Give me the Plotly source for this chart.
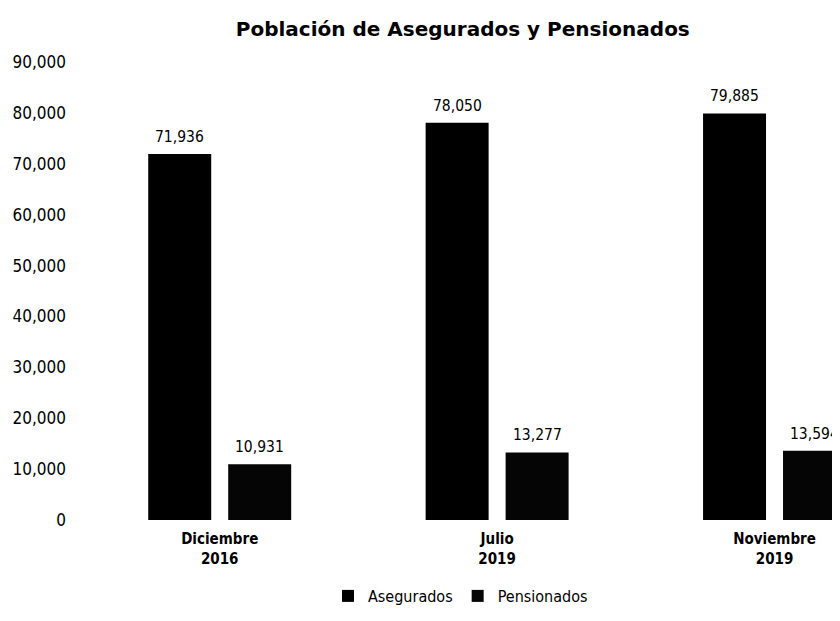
import plotly.graph_objects as go

categories = ["<b>Diciembre</b><br><b>2016</b>", "<b>Julio</b><br><b>2019</b>", "<b>Noviembre</b><br><b>2019</b>"]
asegurados = [71936, 78050, 79885]
pensionados = [10931, 13277, 13594]
y_ticks = [0, 10000, 20000, 30000, 40000, 50000, 60000, 70000, 80000, 90000]

FONT = "DejaVu Sans Condensed, DejaVu Sans, sans-serif"

fig = go.Figure()
fig.add_trace(go.Bar(
    name="Asegurados", x=categories, y=asegurados,
    marker=dict(color="#000000", line=dict(width=0)),
))
fig.add_trace(go.Bar(
    name="Pensionados", x=categories, y=pensionados,
    marker=dict(color="#050505", line=dict(width=0)),
))

# value labels above bars
for series, shift in ((asegurados, -40), (pensionados, 40)):
    for cat, v in zip(categories, series):
        fig.add_annotation(x=cat, y=v, text=f"{v:,}", showarrow=False,
                           xshift=shift, yshift=6, yanchor="bottom",
                           font=dict(size=15.5, family=FONT, color="#000000"))

fig.update_layout(
    width=832, height=605,
    margin=dict(l=73, r=0, t=54, b=92),
    paper_bgcolor="white", plot_bgcolor="white",
    font=dict(family=FONT, size=16, color="#000000"),
    title=dict(text="<b>Población de Asegurados y Pensionados</b>",
               x=0.503, xref="paper", xanchor="center", y=1 - 21 / 605, yanchor="middle",
               font=dict(size=20, family="DejaVu Sans, sans-serif", color="#000000")),
    barmode="group", bargap=0.4234, bargroupgap=0.2125,
    showlegend=True,
    legend=dict(orientation="h", x=0.5, xanchor="center", y=-0.165, yanchor="middle",
                font=dict(size=16, family=FONT), itemwidth=30,
                traceorder="normal"),
    xaxis=dict(range=[-0.5, 2.236], showgrid=False, showline=False, zeroline=False,
               tickfont=dict(size=15, family=FONT, color="#000000"), ticks="",
               ticklabelstandoff=8),
    yaxis=dict(range=[0, 90000], tickvals=y_ticks, tickformat=",d",
               showgrid=False, showline=False, zeroline=False,
               tickfont=dict(size=17, family=FONT, color="#000000"),
               ticks="", ticklabelstandoff=14),
)

fig.write_html("out.html")
